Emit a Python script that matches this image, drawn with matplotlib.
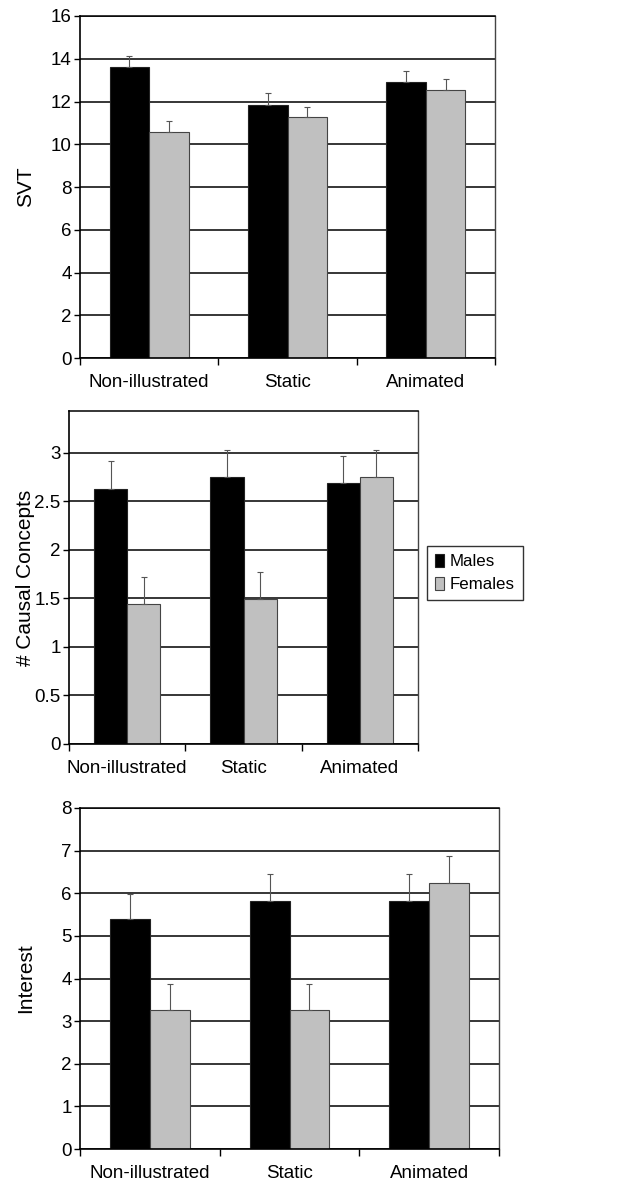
import matplotlib
matplotlib.use("Agg")
import matplotlib.pyplot as plt
import numpy as np
from matplotlib.patches import Patch

plt.rcParams['font.family'] = ['Liberation Sans', 'DejaVu Sans']

categories = ["Non-illustrated", "Static", "Animated"]
series = ["Males", "Females"]

svt_males = [13.6, 11.85, 12.9]
svt_females = [10.55, 11.28, 12.53]
svt_err_males = [0.55, 0.55, 0.55]
svt_err_females = [0.54, 0.48, 0.54]

causal_males = [2.63, 2.75, 2.69]
causal_females = [1.44, 1.49, 2.75]
causal_err_males = [0.28, 0.28, 0.28]
causal_err_females = [0.28, 0.28, 0.28]

interest_males = [5.39, 5.81, 5.81]
interest_females = [3.26, 3.26, 6.25]
interest_err_males = [0.6, 0.63, 0.63]
interest_err_females = [0.62, 0.62, 0.63]

panels = [
    dict(m=svt_males, f=svt_females, em=svt_err_males, ef=svt_err_females,
         ylabel="SVT", ylim=(0, 16), yticks=np.arange(0, 17, 2),
         ticklabels=[str(v) for v in range(0, 17, 2)],
         pos=[80/625, 1-358/1182, 415/625, 342/1182]),
    dict(m=causal_males, f=causal_females, em=causal_err_males, ef=causal_err_females,
         ylabel="# Causal Concepts", ylim=(0, 3.43), yticks=[0, 0.5, 1, 1.5, 2, 2.5, 3],
         ticklabels=["0", "0.5", "1", "1.5", "2", "2.5", "3"],
         pos=[69/625, 1-744/1182, 349/625, 333/1182]),
    dict(m=interest_males, f=interest_females, em=interest_err_males, ef=interest_err_females,
         ylabel="Interest", ylim=(0, 8), yticks=np.arange(0, 9, 1),
         ticklabels=[str(v) for v in range(0, 9)],
         pos=[80/625, 1-1149/1182, 419/625, 341/1182]),
]

fig = plt.figure(figsize=(6.25, 11.82), dpi=100)

male_color = "#000000"
female_color = "#c0c0c0"
bw = 0.285
x = np.arange(len(categories))

for p in panels:
    ax = fig.add_axes(p["pos"])
    ax.set_xlim(-0.5, 2.5)
    ax.set_ylim(*p["ylim"])
    for t in p["yticks"]:
        ax.axhline(t, color="black", lw=1.1, zorder=1)
    ax.bar(x - bw/2, p["m"], bw, color=male_color, edgecolor="#222222", lw=0.8, zorder=2)
    ax.bar(x + bw/2, p["f"], bw, color=female_color, edgecolor="#444444", lw=0.8, zorder=2)
    ax.errorbar(x - bw/2, p["m"], yerr=[np.zeros(3), p["em"]], fmt="none",
                ecolor="#555555", elinewidth=0.8, capsize=2, capthick=0.8, zorder=3)
    ax.errorbar(x + bw/2, p["f"], yerr=[np.zeros(3), p["ef"]], fmt="none",
                ecolor="#555555", elinewidth=0.8, capsize=2, capthick=0.8, zorder=3)
    ax.set_yticks(p["yticks"])
    ax.set_yticklabels(p["ticklabels"], fontsize=13.5)
    ax.set_xticks(x)
    ax.set_xticklabels(categories, fontsize=13.5)
    ax.set_xticks([-0.5, 0.5, 1.5, 2.5], minor=True)
    ax.tick_params(axis="x", which="major", length=0, pad=11.5)
    ax.tick_params(axis="x", which="minor", length=5, width=1, direction="out", color="black")
    ax.tick_params(axis="y", length=4, width=1, direction="out", pad=2)
    ax.set_ylabel(p["ylabel"], fontsize=15)
    for s in ["left", "bottom"]:
        ax.spines[s].set_color("black")
        ax.spines[s].set_linewidth(1.2)
    ax.spines["top"].set_color("black")
    ax.spines["top"].set_linewidth(1.1)
    ax.spines["right"].set_color("#444444")
    ax.spines["right"].set_linewidth(1.0)
    ax.yaxis.set_label_coords((35 - p["pos"][0]*625) / (p["pos"][2]*625), 0.5)

handles = [Patch(facecolor=male_color, edgecolor="#222222", lw=0.8),
           Patch(facecolor=female_color, edgecolor="#444444", lw=0.8)]
leg = fig.legend(handles, series, loc="upper left",
                 bbox_to_anchor=(427/625, 1-546/1182), fontsize=12.2,
                 frameon=True, fancybox=False, edgecolor="black",
                 handlelength=0.55, handleheight=0.8, handletextpad=0.35,
                 borderpad=0.45, labelspacing=0.45, borderaxespad=0)
leg.get_frame().set_linewidth(1.0)

fig.savefig("out.png", dpi=100)
